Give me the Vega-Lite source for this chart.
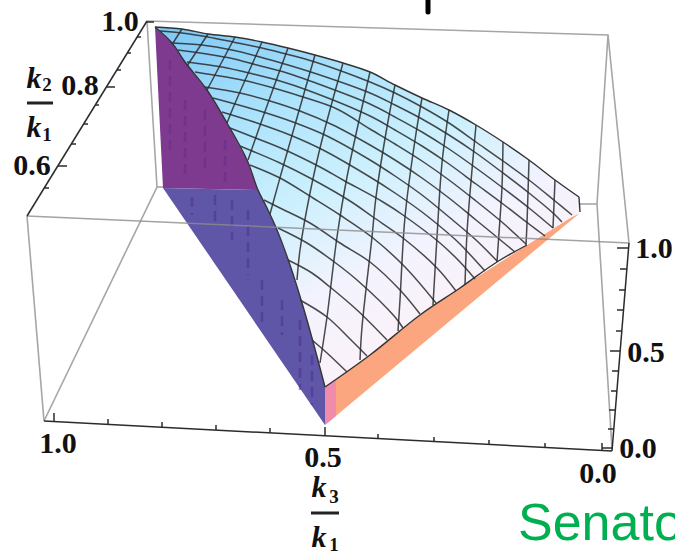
{
"$schema":"https://vega.github.io/schema/vega-lite/v6.json",
"width":675,"height":553,"padding":0,"autosize":{"type":"none"},
"background":"white",
"config":{"view":{"stroke":null}},
"encoding":{
"x":{"field":"h","type":"quantitative","scale":{"domain":[0,675],"nice":false,"zero":false},"axis":null},
"y":{"field":"v","type":"quantitative","scale":{"domain":[553,0],"nice":false,"zero":false},"axis":null}
},
"datasets":{
"box":[
{"s":"a","h":147,"v":21},{"s":"a","h":157,"v":187},{"s":"a","h":44,"v":421},
{"s":"b","h":147,"v":21},{"s":"b","h":608,"v":35},{"s":"b","h":629,"v":243},
{"s":"c","h":608,"v":35},{"s":"c","h":597,"v":204},{"s":"c","h":612,"v":449},
{"s":"d","h":580,"v":204},{"s":"d","h":597,"v":204},
{"s":"e","h":157,"v":187},{"s":"e","h":165,"v":187},
{"s":"f","h":27,"v":216},{"s":"f","h":44,"v":421}
],
"purpleTop":[{"h":155,"v":27},{"h":163,"v":188},{"h":258,"v":190},{"h":247,"v":160},{"h":227,"v":123},{"h":207,"v":90},{"h":185,"v":62},{"h":172,"v":43}],
"purpleLow":[{"h":163,"v":188},{"h":325,"v":425},{"h":325,"v":387},{"h":312,"v":338},{"h":302,"v":303},{"h":290,"v":265},{"h":277,"v":230},{"h":267,"v":208},{"h":258,"v":190}],
"orange":[{"h":325,"v":425},{"h":505,"v":275},{"h":580,"v":213},{"h":570,"v":218},{"h":527,"v":245},{"h":460,"v":288},{"h":420,"v":315},{"h":370,"v":355},{"h":325,"v":387}],
"pink":[{"h":325,"v":425},{"h":336,"v":416},{"h":336,"v":379},{"h":325,"v":387}],
"streakLow":[
{"s":"1","h":192,"v":197},{"s":"1","h":192,"v":215},
{"s":"2","h":215,"v":195},{"s":"2","h":215,"v":225},
{"s":"3","h":232,"v":200},{"s":"3","h":232,"v":240},
{"s":"4","h":248,"v":210},{"s":"4","h":248,"v":275},
{"s":"5","h":262,"v":280},{"s":"5","h":262,"v":325},
{"s":"6","h":282,"v":300},{"s":"6","h":282,"v":335},
{"s":"7","h":300,"v":320},{"s":"7","h":300,"v":390},
{"s":"8","h":312,"v":355},{"s":"8","h":312,"v":405}
],
"streakTop":[
{"s":"1","h":170,"v":60},{"s":"1","h":170,"v":150},
{"s":"2","h":185,"v":100},{"s":"2","h":185,"v":180},
{"s":"3","h":205,"v":110},{"s":"3","h":205,"v":170},
{"s":"4","h":225,"v":140},{"s":"4","h":225,"v":185}
],
"surface":[{"h":155,"v":27},{"h":182,"v":29},{"h":208,"v":34},{"h":235,"v":37},{"h":262,"v":42},{"h":288,"v":48},{"h":315,"v":55},{"h":343,"v":63},{"h":370,"v":72},{"h":395,"v":85},{"h":422,"v":98},{"h":449,"v":110},{"h":476,"v":125},{"h":503,"v":142},{"h":529,"v":160},{"h":555,"v":180},{"h":579,"v":197},{"h":580,"v":212},{"h":570,"v":218},{"h":527,"v":245},{"h":497,"v":262},{"h":460,"v":288},{"h":420,"v":315},{"h":370,"v":355},{"h":325,"v":387},{"h":312,"v":338},{"h":302,"v":303},{"h":290,"v":265},{"h":277,"v":230},{"h":267,"v":208},{"h":258,"v":190},{"h":247,"v":160},{"h":227,"v":123},{"h":207,"v":90},{"h":185,"v":62},{"h":172,"v":43}],
"mesh":[
{"s":"A1","h":182,"v":29},{"s":"A1","h":173,"v":43},
{"s":"A2","h":208,"v":34},{"s":"A2","h":187,"v":66},
{"s":"A3","h":235,"v":37},{"s":"A3","h":207,"v":90},
{"s":"A4","h":262,"v":42},{"s":"A4","h":233,"v":108},{"s":"A4","h":227,"v":123},
{"s":"A5","h":288,"v":48},{"s":"A5","h":263,"v":117},{"s":"A5","h":248,"v":160},
{"s":"A6","h":315,"v":55},{"s":"A6","h":283,"v":167},{"s":"A6","h":270,"v":214},
{"s":"A7","h":343,"v":63},{"s":"A7","h":322,"v":140},{"s":"A7","h":310,"v":193},{"s":"A7","h":300,"v":250},{"s":"A7","h":297,"v":280},
{"s":"A8","h":370,"v":72},{"s":"A8","h":347,"v":177},{"s":"A8","h":337,"v":237},{"s":"A8","h":327,"v":317},{"s":"A8","h":320,"v":363},
{"s":"A9","h":395,"v":85},{"s":"A9","h":387,"v":127},{"s":"A9","h":376,"v":197},{"s":"A9","h":372,"v":237},{"s":"A9","h":362,"v":327},{"s":"A9","h":360,"v":360},
{"s":"A10","h":422,"v":98},{"s":"A10","h":415,"v":140},{"s":"A10","h":405,"v":217},{"s":"A10","h":400,"v":300},{"s":"A10","h":398,"v":331},
{"s":"A11","h":449,"v":110},{"s":"A11","h":442,"v":163},{"s":"A11","h":437,"v":237},{"s":"A11","h":433,"v":305},
{"s":"A12","h":476,"v":125},{"s":"A12","h":470,"v":193},{"s":"A12","h":467,"v":233},{"s":"A12","h":465,"v":285},
{"s":"A13","h":503,"v":142},{"s":"A13","h":502,"v":187},{"s":"A13","h":499,"v":233},{"s":"A13","h":497,"v":262},
{"s":"A14","h":529,"v":160},{"s":"A14","h":527,"v":223},{"s":"A14","h":526,"v":245},
{"s":"A15","h":555,"v":180},{"s":"A15","h":553,"v":228},
{"s":"B1","h":160,"v":31},{"s":"B1","h":182,"v":33},{"s":"B1","h":208,"v":37},{"s":"B1","h":233,"v":42},{"s":"B1","h":262,"v":48},{"s":"B1","h":290,"v":55},{"s":"B1","h":315,"v":62},{"s":"B1","h":370,"v":82},{"s":"B1","h":395,"v":93},{"s":"B1","h":422,"v":107},{"s":"B1","h":449,"v":123},{"s":"B1","h":476,"v":142},{"s":"B1","h":503,"v":161},{"s":"B1","h":529,"v":180},{"s":"B1","h":555,"v":201},{"s":"B1","h":572,"v":215},
{"s":"B2","h":172,"v":43},{"s":"B2","h":202,"v":45},{"s":"B2","h":232,"v":50},{"s":"B2","h":260,"v":57},{"s":"B2","h":288,"v":65},{"s":"B2","h":317,"v":74},{"s":"B2","h":370,"v":93},{"s":"B2","h":395,"v":105},{"s":"B2","h":422,"v":119},{"s":"B2","h":449,"v":135},{"s":"B2","h":476,"v":153},{"s":"B2","h":503,"v":173},{"s":"B2","h":529,"v":193},{"s":"B2","h":553,"v":213},{"s":"B2","h":562,"v":222},
{"s":"B3","h":178,"v":50},{"s":"B3","h":207,"v":54},{"s":"B3","h":230,"v":58},{"s":"B3","h":257,"v":65},{"s":"B3","h":287,"v":73},{"s":"B3","h":313,"v":82},{"s":"B3","h":370,"v":104},{"s":"B3","h":395,"v":117},{"s":"B3","h":422,"v":132},{"s":"B3","h":449,"v":149},{"s":"B3","h":476,"v":168},{"s":"B3","h":503,"v":188},{"s":"B3","h":529,"v":208},{"s":"B3","h":553,"v":228},
{"s":"B4","h":187,"v":62},{"s":"B4","h":222,"v":67},{"s":"B4","h":253,"v":74},{"s":"B4","h":280,"v":81},{"s":"B4","h":307,"v":90},{"s":"B4","h":370,"v":116},{"s":"B4","h":395,"v":130},{"s":"B4","h":422,"v":146},{"s":"B4","h":449,"v":164},{"s":"B4","h":476,"v":184},{"s":"B4","h":503,"v":204},{"s":"B4","h":529,"v":224},{"s":"B4","h":545,"v":236},
{"s":"B5","h":195,"v":72},{"s":"B5","h":247,"v":81},{"s":"B5","h":277,"v":89},{"s":"B5","h":303,"v":97},{"s":"B5","h":337,"v":109},{"s":"B5","h":370,"v":129},{"s":"B5","h":395,"v":144},{"s":"B5","h":422,"v":161},{"s":"B5","h":449,"v":180},{"s":"B5","h":476,"v":201},{"s":"B5","h":503,"v":223},{"s":"B5","h":526,"v":244},
{"s":"B6","h":205,"v":87},{"s":"B6","h":240,"v":93},{"s":"B6","h":270,"v":101},{"s":"B6","h":300,"v":111},{"s":"B6","h":333,"v":125},{"s":"B6","h":370,"v":145},{"s":"B6","h":395,"v":160},{"s":"B6","h":422,"v":178},{"s":"B6","h":449,"v":198},{"s":"B6","h":476,"v":220},{"s":"B6","h":515,"v":252},
{"s":"B7","h":213,"v":98},{"s":"B7","h":263,"v":112},{"s":"B7","h":293,"v":122},{"s":"B7","h":327,"v":136},{"s":"B7","h":370,"v":160},{"s":"B7","h":395,"v":176},{"s":"B7","h":422,"v":195},{"s":"B7","h":449,"v":217},{"s":"B7","h":476,"v":240},{"s":"B7","h":497,"v":261},
{"s":"B8","h":222,"v":112},{"s":"B8","h":257,"v":123},{"s":"B8","h":290,"v":135},{"s":"B8","h":323,"v":150},{"s":"B8","h":370,"v":177},{"s":"B8","h":395,"v":193},{"s":"B8","h":422,"v":212},{"s":"B8","h":449,"v":234},{"s":"B8","h":460,"v":244},{"s":"B8","h":485,"v":271},
{"s":"B9","h":230,"v":128},{"s":"B9","h":253,"v":137},{"s":"B9","h":283,"v":149},{"s":"B9","h":320,"v":167},{"s":"B9","h":343,"v":180},{"s":"B9","h":383,"v":202},{"s":"B9","h":403,"v":215},{"s":"B9","h":440,"v":243},{"s":"B9","h":460,"v":262},{"s":"B9","h":475,"v":279},
{"s":"B10","h":240,"v":146},{"s":"B10","h":280,"v":163},{"s":"B10","h":310,"v":178},{"s":"B10","h":350,"v":201},{"s":"B10","h":373,"v":217},{"s":"B10","h":403,"v":238},{"s":"B10","h":437,"v":268},{"s":"B10","h":456,"v":291},
{"s":"B11","h":250,"v":165},{"s":"B11","h":280,"v":178},{"s":"B11","h":313,"v":198},{"s":"B11","h":340,"v":215},{"s":"B11","h":373,"v":238},{"s":"B11","h":405,"v":267},{"s":"B11","h":436,"v":303},
{"s":"B12","h":264,"v":200},{"s":"B12","h":280,"v":208},{"s":"B12","h":310,"v":223},{"s":"B12","h":340,"v":243},{"s":"B12","h":370,"v":262},{"s":"B12","h":400,"v":290},{"s":"B12","h":420,"v":314},
{"s":"B13","h":278,"v":228},{"s":"B13","h":307,"v":243},{"s":"B13","h":333,"v":261},{"s":"B13","h":357,"v":280},{"s":"B13","h":395,"v":317},{"s":"B13","h":403,"v":328},
{"s":"B14","h":288,"v":260},{"s":"B14","h":312,"v":273},{"s":"B14","h":330,"v":287},{"s":"B14","h":357,"v":310},{"s":"B14","h":387,"v":340},
{"s":"B15","h":300,"v":300},{"s":"B15","h":327,"v":317},{"s":"B15","h":350,"v":339},{"s":"B15","h":367,"v":356},
{"s":"B16","h":312,"v":340},{"s":"B16","h":327,"v":353},{"s":"B16","h":347,"v":372}
],
"edge":[
{"s":"U","h":155,"v":27},{"s":"U","h":182,"v":29},{"s":"U","h":208,"v":34},{"s":"U","h":235,"v":37},{"s":"U","h":262,"v":42},{"s":"U","h":288,"v":48},{"s":"U","h":315,"v":55},{"s":"U","h":343,"v":63},{"s":"U","h":370,"v":72},{"s":"U","h":395,"v":85},{"s":"U","h":422,"v":98},{"s":"U","h":449,"v":110},{"s":"U","h":476,"v":125},{"s":"U","h":503,"v":142},{"s":"U","h":529,"v":160},{"s":"U","h":555,"v":180},{"s":"U","h":579,"v":197},
{"s":"L","h":155,"v":27},{"s":"L","h":172,"v":43},{"s":"L","h":185,"v":62},{"s":"L","h":207,"v":90},{"s":"L","h":227,"v":123},{"s":"L","h":247,"v":160},{"s":"L","h":258,"v":190},{"s":"L","h":267,"v":208},{"s":"L","h":277,"v":230},{"s":"L","h":290,"v":265},{"s":"L","h":302,"v":303},{"s":"L","h":312,"v":338},{"s":"L","h":325,"v":387},
{"s":"D","h":325,"v":387},{"s":"D","h":370,"v":355},{"s":"D","h":420,"v":315},{"s":"D","h":460,"v":288},{"s":"D","h":497,"v":262},{"s":"D","h":527,"v":245},
{"s":"R","h":579,"v":197},{"s":"R","h":580,"v":212}
],
"front":[{"h":27,"v":216},{"h":629,"v":243}],
"axes":[
{"s":"k2","h":27,"v":216},{"s":"k2","h":147,"v":21},
{"s":"k3","h":44,"v":421},{"s":"k3","h":612,"v":451},
{"s":"z","h":612,"v":451},{"s":"z","h":629,"v":243},
{"s":"t1","h":146,"v":22},{"s":"t1","h":154,"v":22},
{"s":"t2","h":137,"v":37},{"s":"t2","h":141,"v":37},
{"s":"t3","h":127,"v":53},{"s":"t3","h":131,"v":53},
{"s":"t4","h":117,"v":70},{"s":"t4","h":121,"v":70},
{"s":"t5","h":106,"v":87},{"s":"t5","h":115,"v":87},
{"s":"t6","h":95,"v":105},{"s":"t6","h":99,"v":105},
{"s":"t7","h":84,"v":124},{"s":"t7","h":88,"v":124},
{"s":"t8","h":71,"v":144},{"s":"t8","h":76,"v":144},
{"s":"t9","h":58,"v":166},{"s":"t9","h":67,"v":166},
{"s":"t10","h":44,"v":188},{"s":"t10","h":49,"v":188},
{"s":"x1","h":54,"v":421.5},{"s":"x1","h":54,"v":413},
{"s":"x2","h":108,"v":424.4},{"s":"x2","h":108,"v":419},
{"s":"x3","h":162,"v":427.2},{"s":"x3","h":162,"v":422},
{"s":"x4","h":216,"v":430},{"s":"x4","h":216,"v":425},
{"s":"x5","h":270,"v":433},{"s":"x5","h":270,"v":428},
{"s":"x6","h":325,"v":435.8},{"s":"x6","h":325,"v":427},
{"s":"x7","h":378,"v":438.6},{"s":"x7","h":378,"v":434},
{"s":"x8","h":434,"v":441.6},{"s":"x8","h":434,"v":437},
{"s":"x9","h":489,"v":444.5},{"s":"x9","h":489,"v":440},
{"s":"x10","h":545,"v":447.5},{"s":"x10","h":545,"v":443},
{"s":"x11","h":602,"v":450.5},{"s":"x11","h":602,"v":443},
{"s":"z0","h":612,"v":448},{"s":"z0","h":602,"v":448},
{"s":"z1","h":614,"v":429},{"s":"z1","h":608,"v":429},
{"s":"z2","h":615,"v":410},{"s":"z2","h":609,"v":410},
{"s":"z3","h":617,"v":391},{"s":"z3","h":611,"v":391},
{"s":"z4","h":618.5,"v":371},{"s":"z4","h":612,"v":371},
{"s":"z5","h":620,"v":351},{"s":"z5","h":610,"v":351},
{"s":"z6","h":622,"v":331},{"s":"z6","h":616,"v":331},
{"s":"z7","h":623.5,"v":310},{"s":"z7","h":617,"v":310},
{"s":"z8","h":625,"v":290},{"s":"z8","h":619,"v":290},
{"s":"z9","h":627,"v":269},{"s":"z9","h":620,"v":269},
{"s":"z10","h":628.6,"v":248},{"s":"z10","h":617,"v":248}
],
"bars":[
{"s":"f1","h":27,"v":103},{"s":"f1","h":53,"v":103},
{"s":"f2","h":311,"v":513},{"s":"f2","h":339,"v":513}
],
"fragment":[{"h":428,"v":0},{"h":428,"v":12}],
"numbers":[
{"t":"1.0","h":120,"v":31},{"t":"0.8","h":80,"v":95},{"t":"0.6","h":32,"v":175},
{"t":"1.0","h":654,"v":258},{"t":"0.5","h":646,"v":362},{"t":"0.0","h":638,"v":458},
{"t":"0.0","h":598,"v":483},{"t":"0.5","h":323,"v":467},{"t":"1.0","h":58,"v":453}
],
"kay":[{"t":"k","h":34,"v":88},{"t":"k","h":34,"v":137},{"t":"k","h":319,"v":497},{"t":"k","h":319,"v":547}],
"subs":[{"t":"2","h":47,"v":91},{"t":"1","h":47,"v":141},{"t":"3","h":334,"v":503},{"t":"1","h":334,"v":551}],
"green":[{"t":"Senato","h":518,"v":540}]
},
"layer":[
{"data":{"name":"box"},"mark":{"type":"line","stroke":"#a6a6a6","strokeWidth":1.6},"encoding":{"detail":{"field":"s"},"order":{"value":null}}},
{"data":{"name":"purpleTop"},"mark":{"type":"line","fill":"#7d3a8f","strokeWidth":0},"encoding":{"order":{"value":null}}},
{"data":{"name":"purpleLow"},"mark":{"type":"line","fill":"#6056a8","strokeWidth":0},"encoding":{"order":{"value":null}}},
{"data":{"name":"streakTop"},"mark":{"type":"line","stroke":"#65278a","strokeWidth":2.5,"strokeOpacity":0.45,"strokeDash":[10,6]},"encoding":{"detail":{"field":"s"},"order":{"value":null}}},
{"data":{"name":"streakLow"},"mark":{"type":"line","stroke":"#4c2f96","strokeWidth":2.5,"strokeOpacity":0.55,"strokeDash":[10,6]},"encoding":{"detail":{"field":"s"},"order":{"value":null}}},
{"data":{"name":"orange"},"mark":{"type":"line","fill":"#fba67e","strokeWidth":0},"encoding":{"order":{"value":null}}},
{"data":{"name":"pink"},"mark":{"type":"line","fill":"#f08cab","strokeWidth":0},"encoding":{"order":{"value":null}}},
{"data":{"name":"surface"},"mark":{"type":"line","strokeWidth":0,"fill":{"gradient":"linear","x1":0,"y1":0,"x2":0.5,"y2":0.85,"stops":[{"offset":0,"color":"#7cc6f6"},{"offset":0.35,"color":"#aee4fc"},{"offset":0.6,"color":"#cdf0fd"},{"offset":0.85,"color":"#f3f3fe"},{"offset":1,"color":"#f9f2fa"}]}},"encoding":{"order":{"value":null}}},
{"data":{"name":"mesh"},"mark":{"type":"line","interpolate":"catmull-rom","stroke":"#2a2a2a","strokeWidth":1.5,"strokeOpacity":0.85},"encoding":{"detail":{"field":"s"},"order":{"value":null}}},
{"data":{"name":"edge"},"mark":{"type":"line","interpolate":"catmull-rom","stroke":"#333333","strokeWidth":1.4},"encoding":{"detail":{"field":"s"},"order":{"value":null}}},
{"data":{"name":"front"},"mark":{"type":"line","stroke":"#8c8c8c","strokeWidth":1.5,"strokeOpacity":0.8},"encoding":{"order":{"value":null}}},
{"data":{"name":"axes"},"mark":{"type":"line","stroke":"#2b2b2b","strokeWidth":1.5},"encoding":{"detail":{"field":"s"},"order":{"value":null}}},
{"data":{"name":"bars"},"mark":{"type":"line","stroke":"#222222","strokeWidth":3},"encoding":{"detail":{"field":"s"},"order":{"value":null}}},
{"data":{"name":"fragment"},"mark":{"type":"line","stroke":"#000000","strokeWidth":5,"strokeCap":"round"},"encoding":{"order":{"value":null}}},
{"data":{"name":"numbers"},"mark":{"type":"text","font":"Liberation Serif","fontWeight":"bold","fontSize":30,"align":"center","baseline":"alphabetic","color":"#111111"},"encoding":{"text":{"field":"t"}}},
{"data":{"name":"kay"},"mark":{"type":"text","font":"Liberation Serif","fontWeight":"bold","fontStyle":"italic","fontSize":30,"align":"center","baseline":"alphabetic","color":"#111111"},"encoding":{"text":{"field":"t"}}},
{"data":{"name":"subs"},"mark":{"type":"text","font":"Liberation Serif","fontWeight":"bold","fontSize":19,"align":"center","baseline":"alphabetic","color":"#111111"},"encoding":{"text":{"field":"t"}}},
{"data":{"name":"green"},"mark":{"type":"text","font":"Liberation Sans","fontSize":52,"align":"left","baseline":"alphabetic","color":"#00b050"},"encoding":{"text":{"field":"t"}}}
]
}
